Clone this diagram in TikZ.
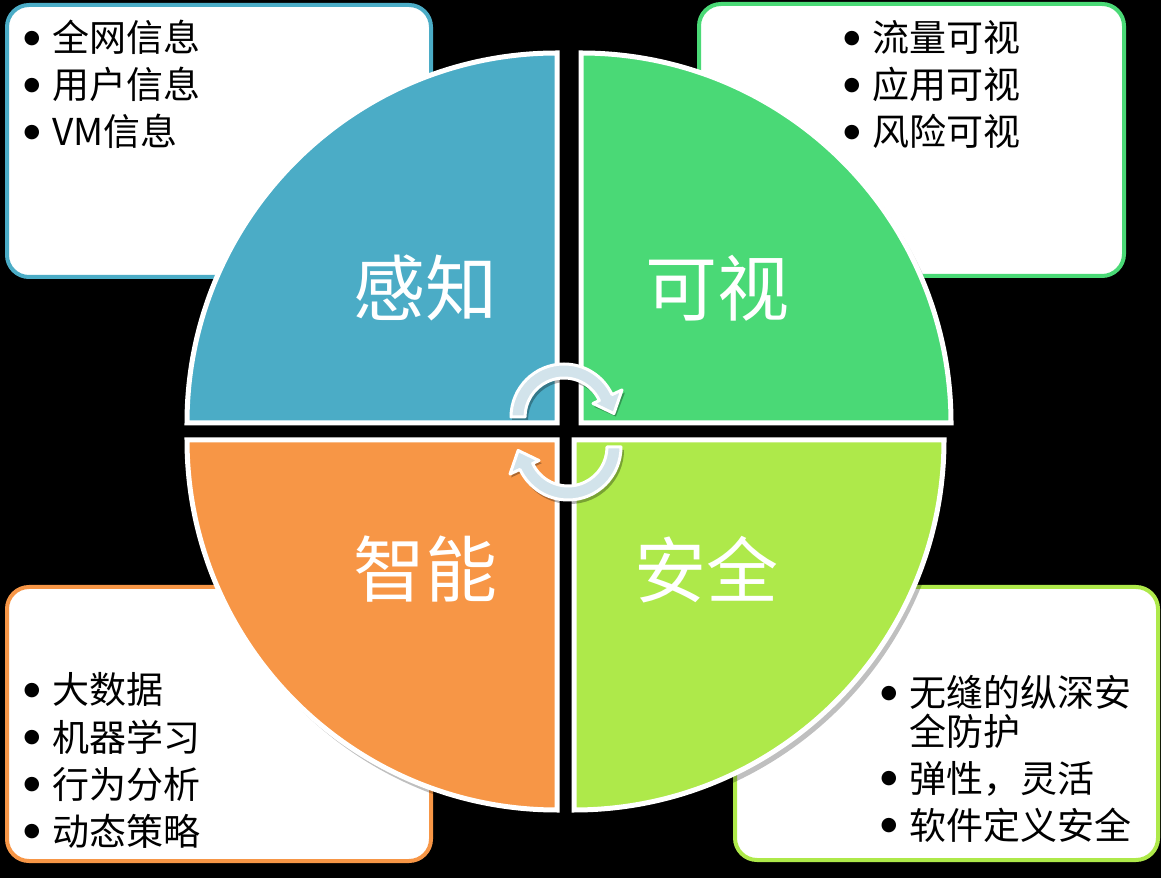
\documentclass[tikz,border=0pt]{standalone}
\usepackage{fontspec}
\newfontfamily\cjk{Noto Sans CJK SC}
\newfontfamily\dejavu{DejaVu Sans}
\usetikzlibrary{calc}
\definecolor{cTeal}{RGB}{75,172,198}
\definecolor{cGreen}{RGB}{74,217,118}
\definecolor{cOrange}{RGB}{247,150,70}
\definecolor{cLime}{RGB}{174,233,74}
\definecolor{cArrow}{RGB}{210,227,235}
\tikzset{
  box/.style={draw, line width=4pt, fill=white, rounded corners=22pt, inner sep=0pt},
  quad/.style={draw=white, line width=5pt, line join=miter},
  qshadow/.style={fill=black, opacity=0.25},
  biglabel/.style={text=white, inner sep=0pt, font=\cjk\fontsize{72}{80}\selectfont},
  itemtext/.style={anchor=base west, inner sep=0pt, text=black, font=\cjk\fontsize{37}{42}\selectfont},
  bulletmark/.style={anchor=center, inner sep=0pt, text=black, font=\dejavu\fontsize{19}{20}\selectfont},
  arrowshape/.style={fill=cArrow, draw=white, line width=3pt, line join=round},
  arrowshadow/.style={fill=black, opacity=0.3},
}
% circular arrow: #1 = centre x, #2 = centre y, #3 = rotation, #4 = style, #5 = extra radius
\newcommand\circarrow[5]{%
  \filldraw[#4] ($(#1,#2)+(180+#3:53+#5)$) arc[start angle=180+#3, end angle=25+#3, radius=53+#5]
    -- ($(#1,#2)+(25+#3:64+#5)$) -- ($(#1,#2)+(4+#3:50)$) -- ($(#1,#2)+(25+#3:32-#5)$)
    -- ($(#1,#2)+(25+#3:39-#5)$) arc[start angle=25+#3, end angle=180+#3, radius=39-#5] -- cycle;}
\begin{document}
\begin{tikzpicture}[x=1pt,y=1pt]
\useasboundingbox (0,0) rectangle (1161,878);
\fill[black] (0,0) rectangle (1161,878);

% corner boxes
\node[box, draw=cTeal,   minimum width=424pt, minimum height=272pt] (tlbox) at (219,737) {};
\node[box, draw=cGreen,  minimum width=425pt, minimum height=272pt] (trbox) at (911.5,738) {};
\node[box, draw=cOrange, minimum width=424pt, minimum height=274pt] (blbox) at (219,154) {};
\node[box, draw=cLime,   minimum width=423pt, minimum height=273pt] (brbox) at (946.5,154.5) {};

% box texts
\node[bulletmark] (tlb1) at (32,839) {●};
\node[itemtext] (tlt1) at (52,826) {全网信息};
\node[bulletmark] (tlb2) at (32,792) {●};
\node[itemtext] (tlt2) at (52,779) {用户信息};
\node[bulletmark] (tlb3) at (32,745) {●};
\node[itemtext] (tlt3) at (52,732) {VM信息};

\node[bulletmark] (trb1) at (852,839) {●};
\node[itemtext] (trt1) at (872,826) {流量可视};
\node[bulletmark] (trb2) at (852,792) {●};
\node[itemtext] (trt2) at (872,779) {应用可视};
\node[bulletmark] (trb3) at (852,745) {●};
\node[itemtext] (trt3) at (872,732) {风险可视};

\node[bulletmark] (blb1) at (32,187) {●};
\node[itemtext] (blt1) at (52,174) {大数据};
\node[bulletmark] (blb2) at (32,140) {●};
\node[itemtext] (blt2) at (52,127) {机器学习};
\node[bulletmark] (blb3) at (32,93) {●};
\node[itemtext] (blt3) at (52,80) {行为分析};
\node[bulletmark] (blb4) at (32,46) {●};
\node[itemtext] (blt4) at (52,33) {动态策略};

\node[bulletmark] (brb1) at (889,184) {●};
\node[itemtext] (brt1) at (909,171) {无缝的纵深安};
\node[itemtext] (brt1b) at (909,132) {全防护};
\node[bulletmark] (brb2) at (889,99) {●};
\node[itemtext] (brt2) at (909,86) {弹性，灵活};
\node[bulletmark] (brb3) at (889,52) {●};
\node[itemtext] (brt3) at (909,39) {软件定义安全};

% quadrant shadows
\fill[qshadow] (560,450) -- (190,450) arc[start angle=180, end angle=90, radius=372] -- cycle;
\fill[qshadow] (584,450) -- (584,822) arc[start angle=90, end angle=0, radius=372] -- cycle;
\fill[qshadow] (560,433) -- (190,433) arc[start angle=180, end angle=270, radius=372] -- cycle;
\fill[qshadow] (577,433) -- (577,61) arc[start angle=270, end angle=360, radius=372] -- cycle;

% quadrants
\coordinate (ctl) at (557,455);
\coordinate (ctr) at (581,455);
\coordinate (cbl) at (557,438);
\coordinate (cbr) at (574,438);
\filldraw[quad, fill=cTeal]   (ctl) -- ++(-370,0) arc[start angle=180, end angle=90, radius=370] -- cycle;
\filldraw[quad, fill=cGreen]  (ctr) -- ++(0,370) arc[start angle=90, end angle=0, radius=370] -- cycle;
\filldraw[quad, fill=cOrange] (cbl) -- ++(-370,0) arc[start angle=180, end angle=270, radius=370] -- cycle;
\filldraw[quad, fill=cLime]   (cbr) -- ++(0,-370) arc[start angle=270, end angle=360, radius=370] -- cycle;

% quadrant labels
\node[biglabel] (lgz) at (425,590) {感知};
\node[biglabel] (lks) at (717,590) {可视};
\node[biglabel] (lzn) at (425,309) {智能};
\node[biglabel] (laq) at (706,308) {安全};

% circular arrows (shadow, then arrow)
\begin{scope}[shift={(2,-3)}]
  \circarrow{564}{461}{0}{arrowshadow, draw=none}{1}
  \circarrow{568}{431}{180}{arrowshadow, draw=none}{1}
\end{scope}
\circarrow{564}{461}{0}{arrowshape}{0}
\circarrow{568}{431}{180}{arrowshape}{0}
\end{tikzpicture}
\end{document}
